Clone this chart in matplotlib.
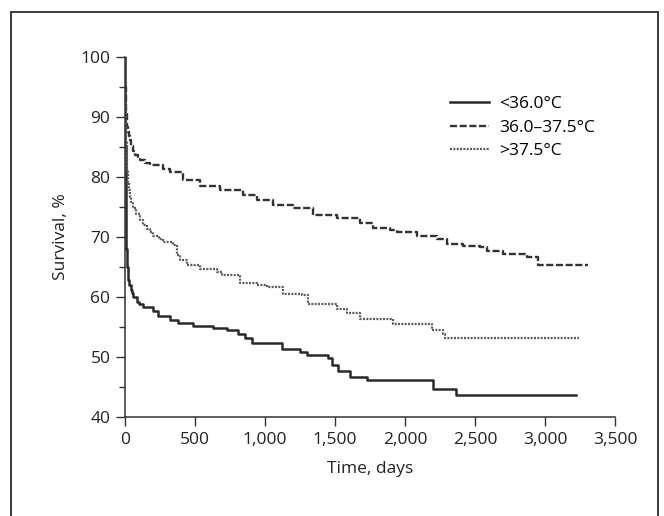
import matplotlib.pyplot as plt
from matplotlib.patches import Rectangle
from matplotlib.ticker import MultipleLocator, FuncFormatter

plt.rcParams['font.family'] = ['Open Sans', 'DejaVu Sans']

# survival curves (days, %)
t_low = [0, 2, 5, 8, 12, 16, 20, 24, 30, 40, 48, 60, 83, 100, 131, 202, 238, 321, 381, 488, 631, 726,
         810, 857, 905, 1095, 1119, 1250, 1298, 1452, 1476, 1524, 1607, 1726, 2202, 2364, 3221]
s_low = [100, 85, 72, 68, 66.2, 65.0, 63.8, 62.8, 62.0, 61.2, 60.6, 60.0, 59.2, 58.9, 58.4, 57.7, 56.8, 56.2,
         55.7, 55.2, 54.8, 54.5, 53.8, 53.1, 52.4, 52.3, 51.4, 50.9, 50.3, 49.9, 48.7, 47.6, 46.7, 46.2,
         44.6, 43.7, 43.7]

t_mid = [0, 3, 6, 12, 20, 28, 36, 45, 58, 71, 90, 107, 140, 179, 274, 321, 417, 536, 679, 843, 941,
         1059, 1202, 1345, 1512, 1679, 1774, 1893, 1941, 2084, 2226, 2298, 2417, 2536, 2584, 2703,
         2869, 2952, 3307]
s_mid = [100, 95, 91, 88.4, 87.5, 86.8, 86.2, 85.2, 84.3, 83.7, 83.3, 82.8, 82.4, 82.0, 81.3, 80.9,
         79.5, 78.5, 77.8, 77.0, 76.2, 75.3, 74.8, 73.7, 73.2, 72.3, 71.5, 71.2, 70.9, 70.1, 69.6, 68.9,
         68.5, 68.3, 67.7, 67.2, 66.6, 65.3, 65.3]

t_high = [0, 3, 6, 12, 20, 28, 36, 45, 60, 80, 107, 130, 155, 180, 202, 240, 274, 345, 369, 393, 441,
          536, 655, 691, 821, 941, 1012, 1131, 1262, 1310, 1512, 1583, 1679, 1917, 2190, 2274, 2286, 3245]
s_high = [100, 92, 86, 81.2, 79.0, 77.8, 76.7, 75.8, 74.8, 73.8, 72.8, 72.0, 71.4, 70.8, 70.1, 69.6,
          69.2, 68.7, 67.0, 66.2, 65.3, 64.6, 64.2, 63.7, 62.4, 62.0, 61.6, 60.5, 60.3, 58.9, 58.0, 57.4,
          56.3, 55.5, 54.5, 53.9, 53.1, 53.1]

labels = ['<36.0°C', '36.0–37.5°C', '>37.5°C']

fig = plt.figure(figsize=(6.64, 5.16), dpi=100)
fig.patches.append(Rectangle((11 / 664, -0.05), 647 / 664, 1.05 - 12 / 516, transform=fig.transFigure,
                             fill=False, edgecolor='#3a3a3a', linewidth=1.4))

ax = fig.add_axes([125 / 664, 99 / 516, 490 / 664, 360 / 516])
ax.step(t_low, s_low, where='post', color='#2a2a2a', lw=1.8, label=labels[0])
ax.step(t_mid, s_mid, where='post', color='#333333', lw=1.7, ls=(0, (3, 1.1)), label=labels[1])
ax.step(t_high, s_high, where='post', color='#5a5a5a', lw=1.6, ls=(0, (0.9, 0.6)), label=labels[2])

ax.set_xlim(0, 3500)
ax.set_ylim(40, 100)
ax.xaxis.set_major_locator(MultipleLocator(500))
ax.xaxis.set_major_formatter(FuncFormatter(lambda v, p: f'{int(v):,}'))
ax.yaxis.set_major_locator(MultipleLocator(10))
ax.yaxis.set_minor_locator(MultipleLocator(5))
for side in ('top', 'right'):
    ax.spines[side].set_visible(False)
for side in ('left', 'bottom'):
    ax.spines[side].set_color('#333333')
    ax.spines[side].set_linewidth(1.1)
ax.tick_params(which='major', direction='out', length=6.5, width=1, color='#333333',
               labelsize=12.5, labelcolor='#222222', pad=4)
ax.tick_params(which='minor', direction='out', length=4, width=1, color='#333333')

ax.set_xlabel('Time, days', fontsize=12.5, color='#222222', labelpad=10)
ax.set_ylabel('Survival, %', fontsize=12.5, color='#222222', labelpad=8)

ax.legend(loc='upper left', bbox_to_anchor=(0.65, 0.91), frameon=False, fontsize=12.5,
          handlelength=2.2, handletextpad=0.6, labelspacing=0.42, borderaxespad=0)

fig.savefig('out.png', dpi=100)
